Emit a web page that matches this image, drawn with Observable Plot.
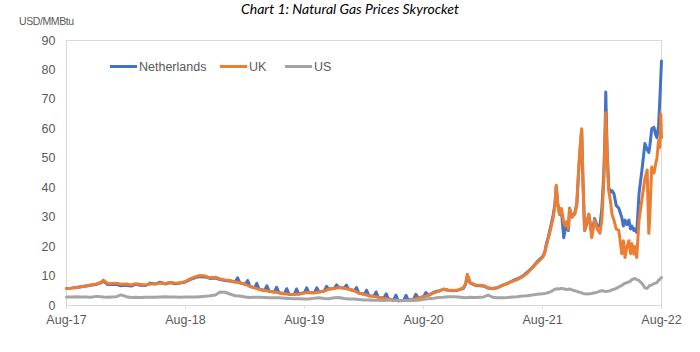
<!DOCTYPE html>
<html>
<head>
<meta charset="utf-8">
<script src="https://cdn.jsdelivr.net/npm/d3@7"></script>
<script src="https://cdn.jsdelivr.net/npm/@observablehq/plot@0.6"></script>
<style>
  html, body { margin: 0; padding: 0; background: #fff; }
  #wrap { position: relative; width: 700px; height: 352px; }
  #title { position: absolute; left: 0; width: 700px; top: 0px; text-align: center;
           font-family: Lato, "Liberation Sans", sans-serif; font-style: italic; font-size: 14px; color: #000; }
  #ylab { position: absolute; left: 19px; top: 15px; font-family: "Liberation Sans", Arial, sans-serif;
          font-size: 10.5px; letter-spacing: -0.4px; color: #595959; }
  #legend { position: absolute; top: 60px; left: 110px; font-family: "Liberation Sans", Arial, sans-serif;
            font-size: 12.5px; color: #595959; }
  .item { position: absolute; white-space: nowrap; }
  .sw { display: inline-block; width: 27px; height: 3px; vertical-align: middle; margin-right: 2px; position: relative; top: -1px; }
</style>
</head>
<body>
<div id="wrap">
  <div id="chart"></div>
  <div id="title">Chart 1: Natural Gas Prices Skyrocket</div>
  <div id="ylab">USD/MMBtu</div>
  <div id="legend"></div>
</div>
<script>
// ---- data (USD/MMBtu) ----
const dates = [
"2017-08-01","2017-08-15","2017-09-01","2017-09-15","2017-10-01","2017-10-15","2017-11-01","2017-11-15","2017-11-22","2017-12-05",
"2018-01-01","2018-01-15","2018-02-01","2018-02-15","2018-03-01","2018-03-15","2018-04-01","2018-04-15","2018-05-01","2018-05-15",
"2018-06-01","2018-06-15","2018-07-01","2018-07-15","2018-08-01","2018-08-15","2018-09-01","2018-09-15","2018-10-01","2018-10-15",
"2018-11-01","2018-11-15","2018-12-01","2018-12-15","2019-01-01","2019-01-15","2019-02-01","2019-02-15","2019-03-01","2019-03-15",
"2019-04-01","2019-04-15","2019-05-01","2019-05-15","2019-06-01","2019-06-15","2019-07-01","2019-07-15","2019-08-01","2019-08-15",
"2019-09-01","2019-09-15","2019-10-01","2019-10-15","2019-11-01","2019-11-15","2019-12-01","2019-12-15","2020-01-01","2020-01-15",
"2020-02-01","2020-02-15","2020-03-01","2020-03-15","2020-04-01","2020-04-15","2020-05-01","2020-05-15","2020-06-01","2020-06-15",
"2020-07-01","2020-07-15","2020-08-01","2020-08-15","2020-09-01","2020-09-15","2020-10-01","2020-10-15","2020-11-01","2020-11-15",
"2020-12-01","2020-12-08","2020-12-13","2020-12-22","2021-01-08","2021-02-01","2021-02-15","2021-03-01","2021-03-15","2021-04-01",
"2021-04-15","2021-05-01","2021-05-15","2021-06-01","2021-06-15","2021-07-01","2021-07-15","2021-08-01","2021-08-07","2021-08-13",
"2021-08-19","2021-08-28","2021-09-03","2021-09-08","2021-09-12","2021-09-16","2021-09-22","2021-09-28","2021-10-05","2021-10-10",
"2021-10-14","2021-10-19","2021-10-23","2021-10-30","2021-11-08","2021-11-14","2021-11-20","2021-11-25","2021-11-29","2021-12-03",
"2021-12-08","2021-12-14","2021-12-21","2021-12-30","2022-01-08","2022-01-16","2022-01-24","2022-01-30","2022-02-05","2022-02-09",
"2022-02-11","2022-02-15","2022-02-20","2022-02-26","2022-03-02","2022-03-08","2022-03-15","2022-03-23","2022-04-01","2022-04-06",
"2022-04-11","2022-04-17","2022-04-23","2022-04-28","2022-05-02","2022-05-08","2022-05-11","2022-05-17","2022-05-24","2022-06-02",
"2022-06-11","2022-06-18","2022-06-23","2022-06-26","2022-07-02","2022-07-09","2022-07-14","2022-07-18","2022-07-23","2022-07-27",
"2022-07-30","2022-08-01"
];
const uk = [
5.8,5.9,6.1,6.4,6.7,7.0,7.3,7.9,8.6,7.4,
7.6,7.2,7.3,7.0,7.4,7.2,7.0,7.3,7.4,7.6,
7.5,7.8,7.6,7.7,8.2,9.0,9.8,10.2,10.0,9.4,
9.6,9.0,8.7,8.5,8.0,7.7,7.2,6.5,6.0,5.5,
5.1,4.8,4.6,4.3,4.0,3.8,3.7,3.9,4.3,4.4,
4.3,4.6,4.9,5.6,5.8,6.1,5.9,5.5,5.0,4.2,
3.8,3.3,3.1,2.8,2.5,2.2,1.9,1.6,1.7,1.8,
2.1,2.6,3.0,3.4,4.3,4.8,5.6,5.3,5.1,5.3,
6.0,7.4,10.6,7.8,7.0,6.8,6.0,5.8,6.1,6.9,
7.4,8.3,8.8,9.8,11.0,12.8,14.5,16.3,17.5,20.5,
23,27,30,34,40.8,35,31,33,28,27,
28.5,26,33,30,31,34,46.5,55,60,42.5,
25.5,28,31,23,29,26,24.5,29,42.5,58,
65.5,52,39,35,31,29,26,25.5,17.6,22,
16.3,20,22,17.6,21,17.5,20,16.3,29,36,
43,46,24.5,30,47,45,48,50,56,53.7,
65,57
];
const nl = [
5.8,5.9,6.1,6.4,6.6,6.9,7.2,7.7,8.4,7.1,
7.2,6.7,6.9,6.6,7.2,6.9,6.8,7.6,7.3,7.9,
7.3,7.8,7.4,7.6,8.0,8.8,9.5,9.8,9.7,9.2,
9.3,8.8,8.5,8.3,8.0,7.7,7.2,6.5,6.0,5.5,
5.1,4.8,4.6,4.3,4.0,3.8,3.7,3.9,4.3,4.4,
4.3,4.6,4.9,5.6,5.8,6.1,5.9,5.5,5.0,4.2,
3.8,3.3,3.1,2.8,2.5,2.2,1.9,1.6,1.7,1.8,
2.1,2.6,3.0,3.4,4.5,4.9,5.5,5.2,5.0,5.2,
5.8,7.2,10.0,7.6,6.8,6.6,5.9,5.7,6.0,6.9,
7.5,8.4,9.0,10.0,11.3,13.0,14.8,16.6,17.8,21,
23.5,27.8,31,34.5,40.5,35,31,32,23,26,
28,25.5,33,30,31.5,34.5,46,54,59.5,42,
25.5,27.5,31,24.5,29.5,27,27,33,45,60,
72.5,53,40,38.5,39,38,34,33,30,27,
29,27.5,29,26,27,25.5,26,24.8,38,46,
55,53,52,54,60,60.5,58,57,61,70,
78,83
];
// short-lived Netherlands price spikes above the UK line (2019-2020)
const nlSpikeDates = [
"2019-01-08","2019-02-08","2019-03-08","2019-04-08","2019-05-08","2019-06-08","2019-07-08","2019-08-08","2019-09-08","2019-10-08",
"2019-11-08","2019-12-08","2020-01-08","2020-02-08","2020-03-08","2020-04-08","2020-05-08","2020-06-08","2020-07-08","2020-08-08"
];
const nlSpikeValues = [
9.4,8.5,7.5,6.7,6.2,5.7,5.6,6.0,6.0,6.5,
7.0,6.9,6.1,5.2,4.6,4.0,3.5,3.4,3.8,4.4
];
const us = [
2.9,2.9,3.0,2.9,2.9,2.8,3.1,3.0,2.9,2.8,
3.0,3.6,3.0,2.7,2.8,2.7,2.8,2.8,2.8,2.9,
3.0,2.9,2.9,2.8,2.9,2.9,2.9,3.0,3.1,3.3,
3.6,4.6,4.5,3.9,3.3,3.2,2.9,2.7,2.8,2.8,
2.7,2.6,2.6,2.6,2.5,2.4,2.3,2.3,2.2,2.2,
2.5,2.6,2.4,2.3,2.6,2.7,2.4,2.2,2.2,2.0,
1.9,1.9,1.8,1.8,1.7,1.8,1.8,1.7,1.7,1.7,
1.7,1.8,2.1,2.3,2.5,2.7,2.8,3.0,3.0,2.9,
2.7,2.6,2.7,2.8,2.7,2.9,3.5,2.8,2.6,2.6,
2.7,2.9,3.0,3.2,3.3,3.6,3.8,4.0,4.1,4.2,
4.4,4.8,5.2,5.5,5.6,5.7,5.6,5.8,5.7,5.5,
5.4,5.5,5.6,5.3,5.0,4.8,4.6,4.5,4.3,4.1,
4.0,3.9,4.0,4.1,4.3,4.5,4.9,5.0,4.9,4.8,
4.7,4.8,4.9,5.1,5.3,5.5,5.8,6.3,6.8,7.2,
7.5,7.8,8.0,8.3,8.8,9.0,9.2,8.8,8.5,7.5,
6.0,5.8,6.5,6.8,7.0,7.4,7.6,7.8,8.6,8.9,
9.3,9.5
];
const seriesNames = ["Netherlands", "UK", "US"];
const seriesColors = ["#4472C4", "#ED7D31", "#A5A5A5"];
const xTickLabels = ["Aug-17","Aug-18","Aug-19","Aug-20","Aug-21","Aug-22"];
const yTicks = [0,10,20,30,40,50,60,70,80,90];

// ---- build table ----
const parse = d3.utcParse("%Y-%m-%d");
const valuesBy = {Netherlands: nl, UK: uk, US: us};
const rows = [];
for (const s of seriesNames) {
  const part = dates.map((d, i) => ({date: parse(d), value: valuesBy[s][i], series: s}));
  if (s === "Netherlands") {
    nlSpikeDates.forEach((d, i) => part.push({date: parse(d), value: nlSpikeValues[i], series: s}));
    part.sort((a, b) => a.date - b.date);
  }
  rows.push(...part);
}
const xTickDates = xTickLabels.map(l => new Date(Date.UTC(2000 + +l.slice(4), 7, 1)));
const fmt = d => xTickLabels[xTickDates.findIndex(t => +t === +d)];

const chart = Plot.plot({
  width: 700,
  height: 352,
  marginTop: 40,
  marginLeft: 66,
  marginRight: 39,
  marginBottom: 47,
  style: {fontFamily: "'Liberation Sans', Arial, sans-serif", fontSize: "12.5px", color: "#595959", background: "#fff"},
  x: {type: "utc", domain: [xTickDates[0], xTickDates[xTickDates.length - 1]], ticks: xTickDates,
      tickFormat: fmt, tickSize: 4, tickPadding: 6, label: null},
  y: {domain: [0, 90], ticks: yTicks, tickSize: 0, tickPadding: 11, label: null},
  color: {domain: seriesNames, range: seriesColors},
  marks: [
    Plot.frame({stroke: "#d9d9d9"}),
    Plot.ruleY([0], {stroke: "#d9d9d9"}),
    Plot.line(rows, {x: "date", y: "value", z: "series", stroke: "series", strokeWidth: 3,
                     strokeLinejoin: "round", curve: "linear"})
  ]
});
chart.querySelectorAll("[aria-label='x-axis tick'] path, [aria-label='x-axis tick']").forEach(e => e.setAttribute("stroke", "#d9d9d9"));
document.getElementById("chart").appendChild(chart);

// legend inside plot
const legend = document.getElementById("legend");
const legendX = [0, 110, 175];
seriesNames.forEach((s, i) => {
  const it = document.createElement("div");
  it.className = "item";
  it.style.left = legendX[i] + "px";
  it.innerHTML = `<span class="sw" style="background:${seriesColors[i]}"></span>${s}`;
  legend.appendChild(it);
});
</script>
</body>
</html>
